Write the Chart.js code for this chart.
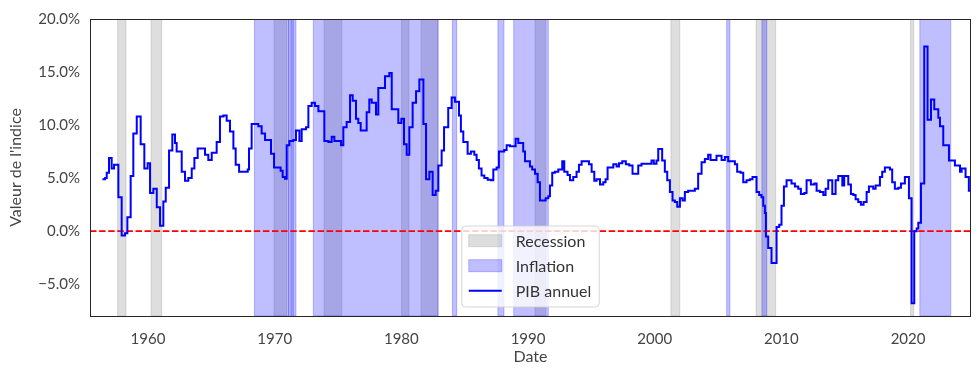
<!DOCTYPE html>
<html>
<head>
<meta charset="utf-8">
<script src="https://cdn.jsdelivr.net/npm/chart.js@4.4.0/dist/chart.umd.min.js"></script>
<style>
  html, body { margin: 0; padding: 0; background: #ffffff; }
  #wrap { width: 980px; height: 375px; position: relative; }
</style>
</head>
<body>
<div id="wrap"><canvas id="c" width="980" height="375"></canvas></div>
<script>
// ---- Data ----
const pibYears = [
  1956.40,1956.61,1956.74,1956.92,1957.13,1957.32,1957.66,1957.92,1958.18,1958.37,
  1958.63,1958.84,1959.11,1959.42,1959.71,1959.97,1960.16,1960.42,1960.69,1960.95,
  1961.21,1961.40,1961.66,1961.92,1962.13,1962.26,1962.66,1962.92,1963.18,1963.45,
  1963.66,1963.92,1964.50,1964.76,1965.03,1965.42,1965.68,1965.95,1966.21,1966.47,
  1966.74,1966.92,1967.19,1967.87,1967.97,1968.18,1968.71,1968.97,1969.24,1969.71,
  1969.95,1970.47,1970.63,1970.81,1970.95,1971.16,1971.47,1971.68,1971.95,1972.13,
  1972.47,1972.66,1972.92,1973.18,1973.45,1973.92,1974.24,1974.50,1974.71,1975.24,
  1975.42,1975.68,1975.95,1976.16,1976.42,1976.60,1976.79,1977.26,1977.47,1977.66,
  1978.00,1978.18,1978.71,1979.05,1979.24,1979.76,1980.00,1980.21,1980.42,1980.63,
  1980.89,1981.16,1981.42,1981.74,1981.95,1982.21,1982.47,1982.71,1982.92,1983.18,
  1983.37,1983.70,1983.97,1984.23,1984.55,1984.70,1984.89,1985.23,1985.49,1985.76,
  1985.94,1986.12,1986.33,1986.55,1986.81,1987.07,1987.26,1987.52,1987.70,1988.12,
  1988.31,1988.57,1989.02,1989.23,1989.62,1989.76,1990.15,1990.33,1990.55,1990.76,
  1990.94,1991.39,1991.60,1991.73,1991.91,1992.12,1992.39,1992.70,1992.86,1993.12,
  1993.31,1993.57,1993.83,1994.02,1994.23,1994.81,1995.02,1995.23,1995.41,1995.68,
  1995.94,1996.12,1996.28,1996.73,1996.99,1997.18,1997.44,1997.72,1997.99,1998.25,
  1998.70,1998.96,1999.75,1999.93,2000.14,2000.28,2000.59,2000.80,2000.99,2001.20,
  2001.41,2001.59,2001.78,2001.99,2002.20,2002.38,2002.64,2003.17,2003.43,2003.70,
  2003.96,2004.22,2004.41,2004.88,2005.28,2005.54,2005.80,2006.33,2006.51,2006.78,
  2006.99,2007.25,2007.51,2007.72,2008.04,2008.25,2008.43,2008.57,2008.70,2008.78,
  2008.96,2009.22,2009.62,2009.83,2010.01,2010.20,2010.41,2010.80,2011.07,2011.33,
  2011.54,2011.81,2011.99,2012.33,2012.60,2012.78,2013.04,2013.31,2013.49,2013.70,
  2014.02,2014.28,2014.49,2014.81,2014.96,2015.28,2015.49,2015.68,2015.86,2016.07,
  2016.28,2016.49,2016.73,2016.91,2017.25,2017.44,2017.78,2017.96,2018.17,2018.57,
  2018.75,2018.96,2019.23,2019.44,2019.75,2020.07,2020.28,2020.49,2020.68,2020.81,
  2021.02,2021.28,2021.54,2021.81,2022.07,2022.39,2022.52,2022.78,2023.23,2023.70,
  2024.10,2024.23,2024.54,2024.80,2024.90
];
const pibValues = [
  4.9,5.0,5.5,6.9,5.9,6.25,3.2,-0.4,-0.2,1.3,
  5.2,9.2,10.8,8.2,5.9,6.4,3.6,4.0,2.25,0.5,
  2.8,4.1,7.6,9.1,8.3,7.5,5.6,4.75,5.0,5.9,
  6.9,7.8,7.2,6.7,7.4,8.4,10.8,10.9,10.4,9.4,
  7.8,6.25,5.6,5.8,7.8,10.1,9.9,9.2,8.6,7.3,
  6.0,5.7,5.1,4.95,8.1,8.5,8.6,9.5,8.5,9.6,
  9.8,11.8,12.1,11.8,11.3,8.5,8.4,8.9,8.5,8.1,
  9.8,10.3,12.8,12.3,10.6,10.2,9.5,11.2,12.4,12.1,
  11.0,13.5,14.6,14.9,11.5,10.2,10.6,8.2,7.2,9.8,
  12.1,13.2,14.3,10.1,4.9,5.6,3.4,3.8,6.2,7.6,
  9.8,11.6,12.6,12.2,10.9,9.4,8.4,7.3,7.5,7.2,
  6.7,5.9,5.25,5.0,4.85,4.8,5.8,6.0,7.5,7.65,
  8.1,8.0,8.7,8.3,7.5,6.6,6.1,5.8,5.4,4.6,
  2.9,3.1,3.3,4.3,5.5,5.6,5.8,6.6,5.6,5.3,
  4.8,5.1,5.6,6.25,6.6,6.3,5.6,4.75,4.9,4.4,
  4.6,4.9,6.0,6.3,6.1,6.4,6.6,6.3,6.2,5.4,
  6.2,6.35,6.65,6.35,6.65,7.75,6.65,5.6,4.8,3.7,
  2.9,2.75,2.3,3.1,2.9,3.7,3.8,4.0,5.4,6.5,
  6.8,7.2,6.7,7.1,6.7,7.0,6.6,6.3,5.6,5.5,
  4.6,4.8,4.9,5.1,3.7,3.4,3.2,2.4,1.7,-0.5,
  -1.6,-3.0,0.4,0.6,2.4,4.2,4.8,4.5,4.2,4.0,
  3.5,3.6,4.8,4.4,4.5,3.8,3.7,3.4,4.0,4.8,
  3.5,4.8,5.2,4.3,5.2,4.4,3.5,3.4,3.0,2.75,
  2.5,2.75,3.7,4.2,4.0,4.3,5.1,5.6,6.0,5.8,
  4.6,4.0,4.1,4.5,5.1,3.1,-6.8,0.0,0.25,0.8,
  4.5,17.4,10.5,12.4,11.5,10.7,9.9,8.1,6.65,6.2,
  5.6,5.9,5.1,3.8,3.8
];
// Recession periods [start, end] (years)
const recessionStarts = [1957.60,1960.24,1969.95,1973.90,1980.02,1981.55,1990.55,2001.28,2008.00,2020.20];
const recessionEnds   = [1958.26,1961.08,1970.95,1975.30,1980.60,1982.90,1991.40,2001.98,2009.55,2020.45];
// Inflation periods [start, end] (years)
const inflationStarts = [1968.40,1971.10,1971.30,1971.45,1973.05,1984.03,1987.62,1988.87,2005.68,2008.46,2020.93];
const inflationEnds   = [1971.10,1971.30,1971.45,1971.68,1982.90,1984.37,1988.10,1991.60,2005.94,2008.85,2023.37];
const xTickValues = [1960,1970,1980,1990,2000,2010,2020];
const yTickValues = [-5,0,5,10,15,20];
const xRange = [1955.42, 2024.97];
const yRange = [-8, 20];
const zeroLevel = 0;
const legendLabels = ['Recession','Inflation','PIB annuel'];

// ---- Styles ----
const FONT = 'Lato, "Noto Sans", sans-serif';
const TEXT = '#444444';
const GREY_FILL = 'rgba(128,128,128,0.26)';
const BLUE_FILL = 'rgba(0,0,255,0.25)';

const spansPlugin = {
  id: 'spans',
  beforeDatasetsDraw(chart) {
    const {ctx, chartArea: a, scales: {x}} = chart;
    ctx.save();
    ctx.beginPath(); ctx.rect(a.left, a.top, a.right - a.left, a.bottom - a.top); ctx.clip();
    const draw = (starts, ends, col) => {
      for (let i = 0; i < starts.length; i++) {
        const x0 = x.getPixelForValue(starts[i]);
        const x1 = x.getPixelForValue(ends[i]);
        ctx.fillStyle = col;
        ctx.fillRect(x0, a.top, x1 - x0, a.bottom - a.top);
        ctx.strokeStyle = col; ctx.lineWidth = 1;
        ctx.strokeRect(x0, a.top, x1 - x0, a.bottom - a.top);
      }
    };
    draw(recessionStarts, recessionEnds, GREY_FILL);
    draw(inflationStarts, inflationEnds, BLUE_FILL);
    ctx.restore();
  },
  afterDatasetsDraw(chart) {
    const {ctx, chartArea: a} = chart;
    ctx.save();
    ctx.font = '16px ' + FONT;
    let tw = 0;
    legendLabels.forEach(t => { tw = Math.max(tw, ctx.measureText(t).width); });
    const handleW = 33, pad = 7, gap = 14;
    const w = pad + handleW + gap + tw + 8;
    const h = 81;
    const cx = (a.left + a.right) / 2;
    const bx = cx - w / 2, by = a.bottom - 9 - h;
    const r = 4;
    ctx.beginPath();
    ctx.moveTo(bx + r, by);
    ctx.arcTo(bx + w, by, bx + w, by + h, r);
    ctx.arcTo(bx + w, by + h, bx, by + h, r);
    ctx.arcTo(bx, by + h, bx, by, r);
    ctx.arcTo(bx, by, bx + w, by, r);
    ctx.closePath();
    ctx.fillStyle = 'rgba(255,255,255,0.8)';
    ctx.fill();
    ctx.strokeStyle = 'rgba(204,204,204,0.8)';
    ctx.lineWidth = 1;
    ctx.stroke();
    const hx = bx + pad;
    const rows = [by + 14.7, by + 39.7, by + 64.7];
    ctx.fillStyle = GREY_FILL; ctx.fillRect(hx, rows[0] - 6, handleW, 12);
    ctx.strokeStyle = GREY_FILL; ctx.strokeRect(hx, rows[0] - 6, handleW, 12);
    ctx.fillStyle = BLUE_FILL; ctx.fillRect(hx, rows[1] - 6, handleW, 12);
    ctx.strokeStyle = BLUE_FILL; ctx.strokeRect(hx, rows[1] - 6, handleW, 12);
    ctx.strokeStyle = '#0000ff'; ctx.lineWidth = 2;
    ctx.beginPath(); ctx.moveTo(hx, rows[2]); ctx.lineTo(hx + handleW, rows[2]); ctx.stroke();
    ctx.fillStyle = '#333333';
    ctx.textBaseline = 'middle'; ctx.textAlign = 'left';
    legendLabels.forEach((t, i) => ctx.fillText(t, hx + handleW + gap, rows[i] + 1));
    ctx.restore();
  },
  afterDraw(chart) {
    const {ctx, chartArea: a} = chart;
    ctx.save();
    ctx.strokeStyle = '#262626';
    ctx.lineWidth = 1;
    ctx.strokeRect(Math.round(a.left) + 0.5, Math.round(a.top) + 0.5,
                   Math.round(a.right - a.left) - 1, Math.round(a.bottom - a.top));
    ctx.restore();
  }
};

const pibPoints = pibYears.map((yr, i) => ({x: yr, y: pibValues[i]}));
const zeroPoints = xRange.map(v => ({x: v, y: zeroLevel}));

new Chart(document.getElementById('c'), {
  type: 'line',
  data: {
    datasets: [
      {
        label: 'zero',
        data: zeroPoints,
        borderColor: '#ff0000',
        borderWidth: 1.6,
        borderDash: [6.5, 2.6],
        pointRadius: 0,
        order: 1
      },
      {
        label: 'PIB annuel',
        data: pibPoints,
        borderColor: '#0000ff',
        borderWidth: 2,
        stepped: 'before',
        pointRadius: 0,
        fill: false,
        order: 0
      }
    ]
  },
  options: {
    responsive: false,
    animation: false,
    events: [],
    layout: { padding: { left: 6, right: 9, top: 16, bottom: 9 } },
    plugins: { legend: { display: false }, tooltip: { enabled: false } },
    scales: {
      x: {
        type: 'linear',
        min: xRange[0], max: xRange[1],
        grid: { display: false, drawTicks: false },
        border: { display: false },
        afterBuildTicks: s => { s.ticks = xTickValues.map(v => ({value: v})); },
        afterFit: s => { s.height = 50; },
        ticks: {
          color: TEXT, font: { family: FONT, size: 15 }, padding: 14,
          maxRotation: 0, autoSkip: false,
          callback: v => String(v)
        },
        title: { display: true, text: 'Date', color: TEXT, font: { family: FONT, size: 16 }, padding: { top: 0, bottom: 0 } }
      },
      y: {
        type: 'linear',
        min: yRange[0], max: yRange[1],
        grid: { display: false, drawTicks: false },
        border: { display: false },
        afterBuildTicks: s => { s.ticks = yTickValues.map(v => ({value: v})); },
        afterFit: s => { s.width = 84; },
        ticks: {
          color: TEXT, font: { family: FONT, size: 15 }, padding: 10,
          callback: v => (v < 0 ? '\u2212' + Math.abs(v).toFixed(1) : v.toFixed(1)) + '%'
        },
        title: { display: true, text: "Valeur de l'indice", color: TEXT, font: { family: FONT, size: 16 }, padding: { top: 0, bottom: 4 } }
      }
    }
  },
  plugins: [spansPlugin]
});
</script>
</body>
</html>
